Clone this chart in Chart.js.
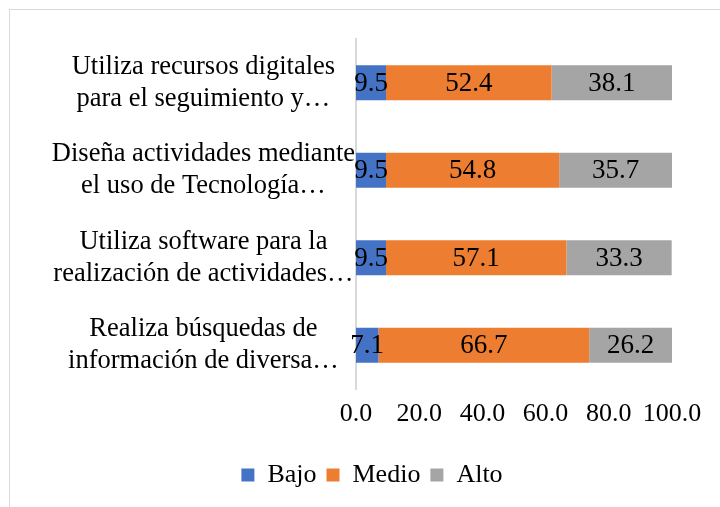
<!DOCTYPE html>
<html>
<head>
<meta charset="utf-8">
<script src="https://cdn.jsdelivr.net/npm/chart.js@4/dist/chart.umd.min.js"></script>
<style>
    html, body { margin: 0; padding: 0; background: #fff; overflow: hidden; }
    #frame {
        position: absolute;
        left: 9px;
        top: 9px;
        width: 711px;
        height: 498px;
        border-top: 1px solid #d9d9d9;
        border-left: 1px solid #d9d9d9;
    }
</style>
</head>
<body>
<div id="frame"><canvas id="chart" width="711" height="498"></canvas></div>
<script>
    // === DATA ===
    const categories = [
        ["Utiliza recursos digitales", "para el seguimiento y…"],
        ["Diseña actividades mediante", "el uso de Tecnología…"],
        ["Utiliza software para la", "realización de actividades…"],
        ["Realiza búsquedas de", "información de diversa…"],
    ];
    const seriesNames = ["Bajo", "Medio", "Alto"];
    const bajo = [9.5, 9.5, 9.5, 7.1];
    const medio = [52.4, 54.8, 57.1, 66.7];
    const alto = [38.1, 35.7, 33.3, 26.2];

    const COLORS = {
        bajo: "#4472c4",
        medio: "#ed7d31",
        alto: "#a5a5a5",
        axis: "#d9d9d9",
        text: "#000000",
    };
    const FONT = "'Liberation Serif', 'Times New Roman', serif";

    Chart.defaults.font.family = FONT;
    Chart.defaults.font.size = 26;
    Chart.defaults.color = COLORS.text;

    // value labels centred in each bar segment
    const segmentLabels = {
        id: "segmentLabels",
        afterDatasetsDraw(chart) {
            const ctx = chart.ctx;
            ctx.save();
            ctx.font = "27px " + FONT;
            ctx.fillStyle = COLORS.text;
            ctx.textAlign = "center";
            ctx.textBaseline = "middle";
            chart.data.datasets.forEach((ds, i) => {
                const meta = chart.getDatasetMeta(i);
                meta.data.forEach((bar, j) => {
                    const p = bar.getProps(["x", "y", "base"], true);
                    ctx.fillText(ds.data[j].toFixed(1), (p.x + p.base) / 2, p.y + 1);
                });
            });
            ctx.restore();
        },
    };

    // the legend sits a bit right of the canvas centre in the original
    const shiftLegend = {
        id: "shiftLegend",
        afterLayout(chart) {
            if (chart.legend) {
                chart.legend.left += 31;
                chart.legend.right += 31;
            }
        },
    };

    const ctx = document.getElementById("chart").getContext("2d");
    new Chart(ctx, {
        type: "bar",
        data: {
            labels: categories,
            datasets: [
                { label: seriesNames[0], data: bajo, backgroundColor: COLORS.bajo },
                { label: seriesNames[1], data: medio, backgroundColor: COLORS.medio },
                { label: seriesNames[2], data: alto, backgroundColor: COLORS.alto },
            ],
        },
        options: {
            indexAxis: "y",
            responsive: false,
            animation: false,
            barPercentage: 0.4,
            categoryPercentage: 1,
            layout: {
                padding: { left: 0, right: 49, top: 29, bottom: 10 },
            },
            plugins: {
                legend: {
                    position: "bottom",
                    labels: {
                        boxWidth: 13,
                        boxHeight: 13,
                        padding: 10,
                        color: COLORS.text,
                    },
                },
                tooltip: { enabled: false },
            },
            scales: {
                x: {
                    stacked: true,
                    min: 0,
                    max: 100,
                    grid: { display: false, drawTicks: false },
                    border: { display: false },
                    ticks: {
                        stepSize: 20,
                        padding: 10,
                        maxRotation: 0,
                        callback: (v) => Number(v).toFixed(1),
                    },
                    afterFit: (scale) => { scale.height = 63; },
                },
                y: {
                    stacked: true,
                    grid: { display: false, drawTicks: false },
                    border: { display: true, color: COLORS.axis, width: 2 },
                    ticks: {
                        crossAlign: "center",
                        padding: 1,
                        autoSkip: false,
                        font: { size: 26.5 },
                    },
                    afterFit: (scale) => {
                        scale.width = 346;
                        scale.paddingTop = 0;
                        scale.paddingBottom = 0;
                    },
                },
            },
        },
        plugins: [segmentLabels, shiftLegend],
    });
</script>
</body>
</html>
